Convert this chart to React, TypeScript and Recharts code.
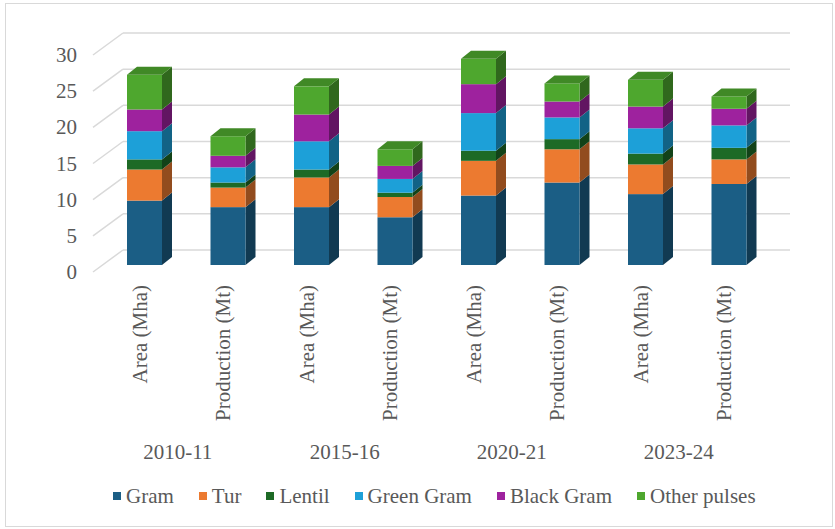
import React from 'react';
import { BarChart, Bar, XAxis, YAxis, CartesianGrid, Legend } from 'recharts';

const years = ['2010-11', '2015-16', '2020-21', '2023-24'];
const measures = ['Area (Mha)', 'Production (Mt)'];

const gram = [8.9, 8.0, 8.0, 6.6, 9.6, 11.4, 9.8, 11.2];
const tur = [4.3, 2.7, 4.1, 2.8, 4.8, 4.6, 4.1, 3.4];
const lentil = [1.4, 0.7, 1.1, 0.6, 1.4, 1.4, 1.5, 1.6];
const greenGram = [3.9, 2.1, 3.9, 1.9, 5.2, 3.0, 3.5, 3.1];
const blackGram = [3.0, 1.6, 3.7, 1.8, 4.0, 2.2, 3.0, 2.3];
const otherPulses = [4.8, 2.7, 3.9, 2.3, 3.5, 2.5, 3.7, 1.7];

const yTicks = [0, 5, 10, 15, 20, 25, 30];

const seriesNames = ['Gram', 'Tur', 'Lentil', 'Green Gram', 'Black Gram', 'Other pulses'];
const seriesValues = [gram, tur, lentil, greenGram, blackGram, otherPulses];
const seriesColors = ['#1b5e85', '#ec7a30', '#1d6a26', '#1da0d8', '#9e229e', '#4ea72e'];

const data = years.flatMap((yr, g) =>
  measures.map((m, j) => {
    const i = g * 2 + j;
    const row: Record<string, any> = { key: `${yr}|${m}` };
    seriesNames.forEach((n, s) => {
      row[n] = seriesValues[s][i];
    });
    return row;
  })
);

const FONT = 'Liberation Serif, DejaVu Serif, serif';
const TEXT = '#595959';
const GRID = '#d9d9d9';

function shade(hex: string, f: number) {
  const n = parseInt(hex.slice(1), 16);
  const r = Math.round(((n >> 16) & 255) * f);
  const g = Math.round(((n >> 8) & 255) * f);
  const b = Math.round((n & 255) * f);
  return `rgb(${r},${g},${b})`;
}

const DX = 10;
const DY = 8;

const make3D = (color: string, isTop: boolean) => (props: any) => {
  const { x, y, width, height } = props;
  if (height == null || height <= 0) return <g />;
  const side = shade(color, 0.62);
  const topC = shade(color, 0.82);
  return (
    <g>
      <path
        d={`M${x + width},${y} L${x + width + DX},${y - DY} L${x + width + DX},${y + height - DY} L${x + width},${y + height} Z`}
        fill={side}
      />
      <rect x={x} y={y} width={width} height={height} fill={color} />
      {isTop && (
        <path
          d={`M${x},${y} L${x + DX},${y - DY} L${x + width + DX},${y - DY} L${x + width},${y} Z`}
          fill={topC}
        />
      )}
    </g>
  );
};

const gridLine = (props: any) => {
  const { x1, x2, y1, index } = props;
  return (
    <g key={`hl-${index}`}>
      <line x1={x1 - 10} y1={y1 + 7} x2={x1 + 20} y2={y1 - 15} stroke={GRID} strokeWidth={1.5} />
      <line x1={x1 + 20} y1={y1 - 15} x2={x2 + 19} y2={y1 - 15} stroke={GRID} strokeWidth={1.5} />
    </g>
  );
};

const YTick = (props: any) => {
  const { y, payload } = props;
  return (
    <text
      x={77}
      y={y + 7}
      textAnchor="end"
      dominantBaseline="central"
      style={{ fontFamily: FONT }}
      fontSize={21}
      fill={TEXT}
    >
      {payload.value}
    </text>
  );
};

const XTick = (props: any) => {
  const { x, payload } = props;
  const [yr, m] = String(payload.value).split('|');
  const tx = x - 5;
  const isFirst = m === measures[0];
  return (
    <g>
      <text
        x={tx}
        y={285}
        transform={`rotate(-90, ${tx}, 285)`}
        textAnchor="end"
        dominantBaseline="central"
        style={{ fontFamily: FONT }}
        fontSize={21}
        fill={TEXT}
      >
        {m}
      </text>
      {isFirst && (
        <text
          x={x + 33}
          y={452}
          textAnchor="middle"
          dominantBaseline="central"
          style={{ fontFamily: FONT }}
          fontSize={21}
          fill={TEXT}
        >
          {yr}
        </text>
      )}
    </g>
  );
};

const LegendContent = () => (
  <div style={{ display: 'flex', alignItems: 'center', fontFamily: FONT, fontSize: 21, color: TEXT, lineHeight: '24px' }}>
    {seriesNames.map((n, i) => (
      <div key={n} style={{ display: 'flex', alignItems: 'center', marginRight: i < seriesNames.length - 1 ? 25 : 0, whiteSpace: 'nowrap' }}>
        <span style={{ display: 'inline-block', width: 8, height: 8, background: seriesColors[i], marginRight: 5 }} />
        <span>{n}</span>
      </div>
    ))}
  </div>
);

export default function App() {
  return (
    <div style={{ position: 'absolute', left: 0, top: 0, width: 835, height: 529, background: '#fff' }}>
      <div
        style={{
          position: 'absolute',
          left: 5,
          top: 3,
          width: 828,
          height: 524,
          border: '1px solid #d9d9d9',
          boxSizing: 'border-box',
        }}
      />
      <div style={{ position: 'absolute', left: 0, top: 0 }}>
        <BarChart
          width={835}
          height={529}
          data={data}
          margin={{ top: 48, right: 64, left: 43, bottom: 0 }}
          barSize={35}
        >
          <CartesianGrid vertical={false} horizontal={gridLine} />
          <XAxis
            dataKey="key"
            height={264}
            axisLine={false}
            tickLine={false}
            interval={0}
            tick={<XTick />}
          />
          <YAxis
            width={60}
            domain={[0, 30]}
            ticks={yTicks}
            axisLine={false}
            tickLine={false}
            tick={<YTick />}
          />
          <Legend
            layout="horizontal"
            verticalAlign="middle"
            align="center"
            wrapperStyle={{ top: 484, left: 113, width: 700 }}
            content={<LegendContent />}
          />
          {seriesNames.map((n, i) => (
            <Bar
              key={n}
              dataKey={n}
              name={n}
              stackId="a"
              fill={seriesColors[i]}
              isAnimationActive={false}
              shape={make3D(seriesColors[i], i === seriesNames.length - 1)}
            />
          ))}
        </BarChart>
      </div>
    </div>
  );
}
